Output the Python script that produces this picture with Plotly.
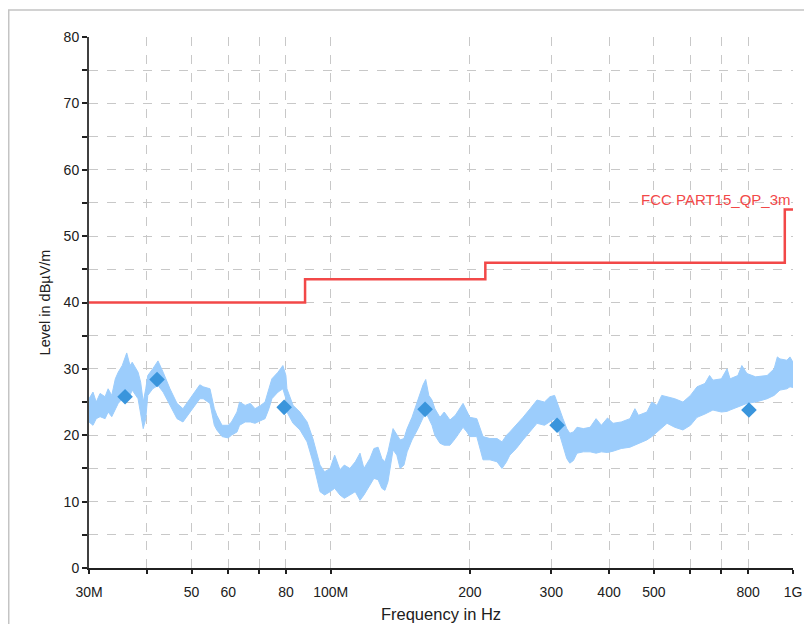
import plotly.graph_objects as go

# measured trace, drawn as min/max envelope (MHz, dBuV/m)
trace_freq = [30.0, 30.6, 31.1, 31.7, 32.5, 33.0, 33.6, 34.2, 34.7, 35.4, 36.2, 36.8, 37.2, 38.3, 38.8,
              39.3, 39.8, 40.2, 41.2, 42.3, 43.4, 44.9, 46.5, 47.9, 49.6, 52.1, 53.0, 54.8, 56.0, 56.7,
              58.2, 60.0, 61.0, 62.7, 63.5, 65.3, 67.0, 68.6, 70.5, 72.1, 73.5, 74.6, 76.9, 78.8, 80.0,
              80.4, 82.9, 85.8, 88.9, 91.5, 94.8, 97.0, 99.7, 102.0, 104.7, 107.0, 110.0, 113.0, 115.7,
              118.0, 121.6, 124.0, 126.6, 129.0, 131.0, 133.0, 136.4, 139.0, 141.3, 144.0, 146.3, 149.9,
              154.5, 158.4, 160.5, 163.0, 165.6, 168.0, 172.3, 176.0, 181.1, 186.0, 193.3, 197.0, 200.0,
              207.0, 213.5, 221.0, 229.0, 234.7, 240.0, 244.0, 252.0, 260.6, 270.0, 279.4, 290.0, 298.0,
              305.0, 310.0, 318.0, 324.0, 329.0, 335.0, 341.0, 352.0, 364.0, 375.0, 385.0, 397.0, 408.0,
              425.0, 444.0, 455.0, 463.0, 483.0, 495.0, 508.0, 520.0, 534.0, 555.0, 578.0, 600.0, 620.0,
              645.0, 660.0, 671.0, 700.0, 720.0, 731.0, 760.0, 775.0, 795.0, 830.0, 879.0, 910.0, 925.0,
              937.0, 970.0, 985.0, 1000.0]
trace_hi = [25.5, 26.5, 25.0, 26.3, 25.8, 27.0, 26.0, 28.5, 29.5, 30.5, 32.4, 30.5, 31.0, 29.5, 28.0,
            25.0, 27.0, 29.0, 30.0, 31.2, 29.5, 27.0, 24.8, 24.0, 25.5, 27.6, 27.3, 27.0, 24.0, 23.0,
            21.5, 21.5, 22.0, 23.5, 25.0, 24.5, 24.8, 24.0, 24.5, 25.0, 27.0, 28.5, 29.5, 30.5, 29.0,
            27.0, 24.5, 23.5, 22.0, 19.5, 15.5, 14.5, 15.0, 17.0, 14.8, 15.5, 15.0, 16.0, 17.3,
            15.0, 16.5, 18.0, 18.2, 16.5, 16.0, 17.5, 21.0, 20.0, 19.3, 19.5, 21.0, 22.7,
            25.5, 27.6, 28.4, 26.0, 25.3, 24.0, 22.7, 23.5, 22.3, 23.0, 24.8, 23.5, 22.7,
            22.5, 19.8, 19.5, 19.5, 19.0, 20.0, 20.5, 21.5, 22.7, 24.0, 25.3, 25.0, 25.8,
            26.0, 24.5, 22.5, 21.0, 20.3, 20.5, 21.2, 21.0, 21.2, 22.5, 21.5, 22.6, 21.8,
            22.0, 22.5, 24.0, 23.0, 23.5, 25.0, 24.5, 26.0, 25.8, 25.5, 25.0, 26.0, 27.3,
            27.8, 29.0, 28.3, 28.5, 30.0, 28.5, 29.0, 30.5, 29.3, 28.8, 29.0, 30.0, 31.8,
            31.5, 31.3, 31.8, 31.0]
trace_lo = [22.0, 21.5, 22.5, 22.8, 22.5, 23.5, 22.8, 24.0, 24.8, 25.5, 26.5, 26.0, 26.8, 25.5, 23.0,
            21.0, 22.5, 26.0, 27.0, 27.5, 26.5, 24.5, 22.5, 22.0, 23.5, 25.5, 25.5, 24.8, 21.5, 20.8,
            19.8, 19.6, 20.0, 20.5, 21.5, 22.0, 22.0, 21.8, 22.2, 22.5, 24.0, 25.5, 26.5, 27.0, 25.5,
            23.5, 21.8, 20.8, 19.0, 16.0, 11.5, 11.0, 11.5, 12.0, 11.0, 10.5, 11.0, 11.5, 10.2,
            11.0, 12.5, 13.5, 13.3, 12.0, 11.7, 13.0, 17.8, 17.0, 15.0, 15.5, 17.5, 19.3,
            21.0, 22.7, 23.5, 22.5, 21.5, 20.0, 18.8, 18.5, 18.5, 19.5, 21.2, 20.5, 19.8,
            19.8, 16.3, 16.3, 16.0, 15.0, 16.0, 17.0, 18.0, 19.3, 20.5, 21.8, 21.5, 22.0,
            22.5, 21.0, 18.5, 16.5, 15.8, 16.2, 17.3, 17.5, 17.5, 17.3, 17.5, 17.4, 17.6,
            18.0, 18.2, 18.5, 18.8, 19.3, 19.8, 20.5, 21.0, 21.8, 21.2, 20.8, 21.5, 22.7,
            23.2, 23.5, 23.8, 23.5, 23.6, 23.8, 24.3, 24.5, 24.8, 25.0, 25.5, 26.0, 26.5,
            26.8, 27.0, 27.3, 27.2]

# FCC limit (MHz, dBuV/m)
limit_freq = [30, 88, 216, 960, 1000]
limit_level = [40, 43.5, 46, 54, 54]

# final QP readings
peak_freq = [35.9, 42.1, 79.3, 160.0, 308.8, 803.0]
peak_level = [25.8, 28.4, 24.2, 23.9, 21.5, 23.8]

x_tickvals = [30, 40, 50, 60, 70, 80, 100, 200, 300, 400, 500, 600, 700, 800, 1000]
x_ticktext = ["30M", "", "50", "60", "", "80", "100M", "200", "300", "400", "500", "", "", "800", "1G"]
y_tickvals = list(range(0, 85, 5))
y_ticktext = [str(v) if v % 10 == 0 else "" for v in y_tickvals]

to_hz = lambda lst: [v * 1e6 for v in lst]

fig = go.Figure()
fig.add_trace(go.Scatter(x=to_hz(trace_freq), y=trace_lo, mode="lines",
                         line=dict(color="#9ccdfc", width=1), hoverinfo="skip"))
fig.add_trace(go.Scatter(x=to_hz(trace_freq), y=trace_hi, mode="lines", fill="tonexty",
                         fillcolor="#9ccdfc", line=dict(color="#9ccdfc", width=1)))
fig.add_trace(go.Scatter(x=to_hz(limit_freq), y=limit_level, mode="lines", line_shape="hv",
                         line=dict(color="#f24848", width=2.5)))
fig.add_trace(go.Scatter(x=to_hz(peak_freq), y=peak_level, mode="markers",
                         marker=dict(symbol="diamond", size=12, color="#3a95dc")))

fig.add_annotation(x=1, xref="paper", y=54, yref="y", text="FCC PART15_QP_3m", showarrow=False,
                   xanchor="right", yanchor="bottom", yshift=0,
                   font=dict(color="#f24848", size=15))

# outer panel frame (page has an 8px body margin)
fig.add_shape(type="rect", xref="paper", yref="paper", x0=-0.1140, x1=1.1, y0=-0.2, y1=1.0508,
              line=dict(color="#c4c4c4", width=1.5))

fig.update_xaxes(type="log", range=[7.4771, 9.0], tickvals=to_hz(x_tickvals), ticktext=x_ticktext,
                 showgrid=True, gridcolor="#c8c8c8", griddash="dash", gridwidth=1,
                 showline=True, linecolor="#202020", linewidth=2, ticks="outside", ticklen=4,
                 tickcolor="#202020", tickwidth=1.5, zeroline=False, ticklabelstandoff=6,
                 tickfont=dict(size=14), automargin=False,
                 title=dict(text="Frequency in Hz", font=dict(size=16.5, color="#202020"), standoff=10))
fig.update_yaxes(range=[0, 80], tickvals=y_tickvals, ticktext=y_ticktext,
                 showgrid=True, gridcolor="#c8c8c8", griddash="dash", gridwidth=1,
                 showline=True, linecolor="#404040", linewidth=2, ticks="outside", ticklen=5,
                 tickcolor="#202020", tickwidth=1.5, zeroline=False,
                 tickfont=dict(size=14), automargin=False,
                 title=dict(text="Level in dBµV/m", font=dict(size=14.5, color="#202020"), standoff=10))
fig.update_layout(width=804, height=616, showlegend=False,
                  margin=dict(l=81, r=19, t=29, b=56),
                  paper_bgcolor="white", plot_bgcolor="white",
                  font=dict(family="Liberation Sans, Arial, sans-serif", size=12, color="#202020"))
fig.write_html("out.html")
